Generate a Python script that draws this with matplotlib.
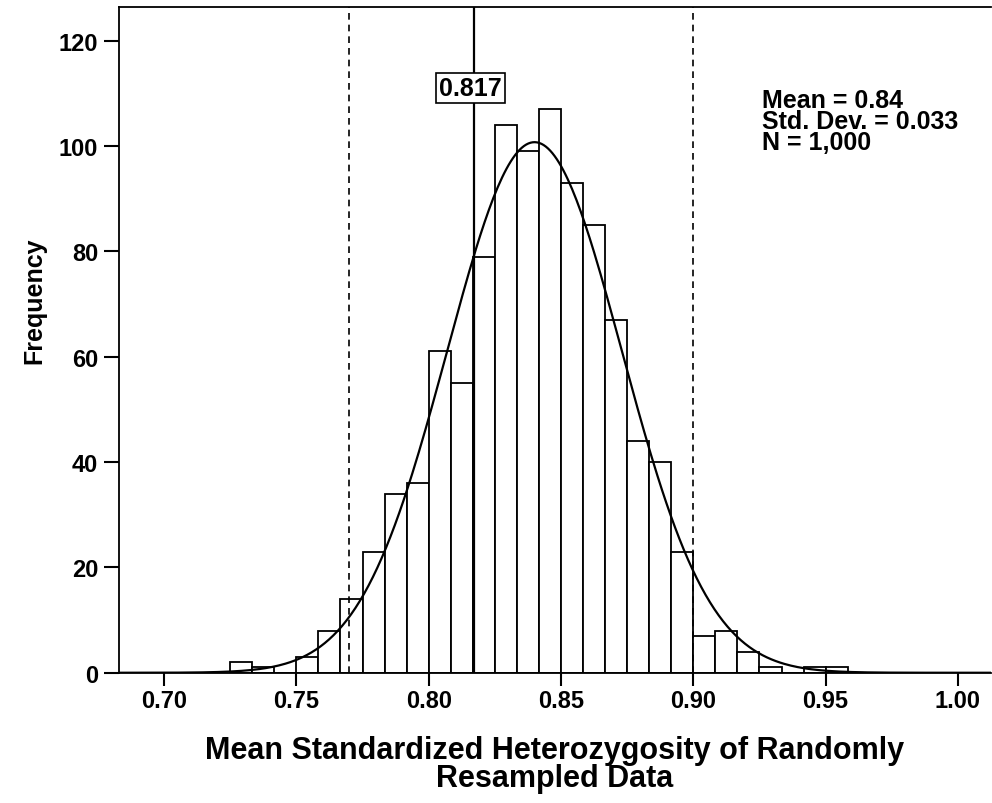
import numpy as np
import matplotlib.pyplot as plt

# histogram of resampled mean standardized heterozygosity (bin width 1/120)
bin_start = 0.725
bin_width = 1 / 120
counts = [2, 1, 0, 3, 8, 14, 23, 34, 36, 61, 55, 79, 104, 99, 107,
          93, 85, 67, 44, 40, 23, 7, 8, 4, 1, 0, 1, 1]

mean_val = 0.84
sd_val = 0.033
n_total = 1000
observed = 0.817
lower_cut = 0.77
upper_cut = 0.90

x_ticks = [0.70, 0.75, 0.80, 0.85, 0.90, 0.95, 1.00]
y_ticks = [0, 20, 40, 60, 80, 100, 120]

plt.rcParams['font.family'] = ['Liberation Sans', 'DejaVu Sans']
plt.rcParams['font.weight'] = 'bold'

fig = plt.figure(figsize=(9.92, 8.04), dpi=100)
ax = fig.add_axes([0.12, 0.162, 0.879, 0.828])

edges = bin_start + bin_width * np.arange(len(counts))
ax.bar(edges, counts, width=bin_width, align='edge',
       facecolor='white', edgecolor='black', linewidth=1.3, zorder=2)

# fitted normal curve
xs = np.linspace(0.683, 1.013, 400)
ys = n_total * bin_width / (sd_val * np.sqrt(2 * np.pi)) * np.exp(-0.5 * ((xs - mean_val) / sd_val) ** 2)
ax.plot(xs, ys, color='black', linewidth=1.6, zorder=3)

ax.axvline(observed, color='black', linewidth=1.6, zorder=4)
ax.axvline(lower_cut, color='black', linewidth=1.2, linestyle=(0, (4, 3)), zorder=4)
ax.axvline(upper_cut, color='black', linewidth=1.2, linestyle=(0, (4, 3)), zorder=4)

ax.text(observed - 0.0012, 111, "0.817", ha='center', va='center', fontsize=18,
        fontweight='bold', zorder=5,
        bbox=dict(boxstyle='square,pad=0.13', facecolor='white', edgecolor='black', linewidth=1.2))

ax.text(0.9259, 111, "Mean = 0.84\nStd. Dev. = 0.033\nN = 1,000",
        ha='left', va='top', fontsize=18, fontweight='bold', linespacing=0.85)

ax.set_xlim(0.683, 1.0125)
ax.set_ylim(0, 126.4)
ax.set_xticks(x_ticks)
ax.set_xticklabels([f"{t:.2f}" for t in x_ticks])
ax.set_yticks(y_ticks)
ax.tick_params(axis='both', labelsize=17, width=1.5, length=11, direction='out', pad=4)
ax.tick_params(axis='x', length=9, pad=3)
for lab in ax.get_xticklabels() + ax.get_yticklabels():
    lab.set_fontweight('bold')

for side in ['left', 'bottom', 'top']:
    ax.spines[side].set_linewidth(1.3)
ax.spines['right'].set_visible(False)

ax.set_ylabel("Frequency", fontsize=18, fontweight='bold')
ax.yaxis.set_label_coords(-0.083, 0.56)
ax.set_xlabel("Mean Standardized Heterozygosity of Randomly\nResampled Data",
              fontsize=22, fontweight='bold', labelpad=16, linespacing=0.92)

fig.savefig("out.png", dpi=100)
